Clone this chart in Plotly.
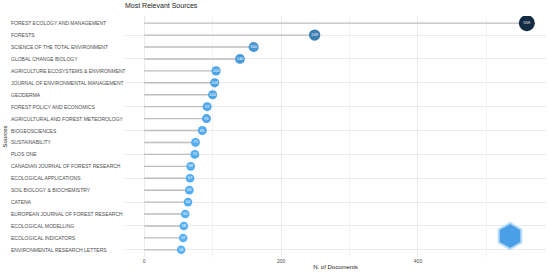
import math
import plotly.graph_objects as go

sources = [
    "FOREST ECOLOGY AND MANAGEMENT",
    "FORESTS",
    "SCIENCE OF THE TOTAL ENVIRONMENT",
    "GLOBAL CHANGE BIOLOGY",
    "AGRICULTURE ECOSYSTEMS & ENVIRONMENT",
    "JOURNAL OF ENVIRONMENTAL MANAGEMENT",
    "GEODERMA",
    "FOREST POLICY AND ECONOMICS",
    "AGRICULTURAL AND FOREST METEOROLOGY",
    "BIOGEOSCIENCES",
    "SUSTAINABILITY",
    "PLOS ONE",
    "CANADIAN JOURNAL OF FOREST RESEARCH",
    "ECOLOGICAL APPLICATIONS",
    "SOIL BIOLOGY & BIOCHEMISTRY",
    "CATENA",
    "EUROPEAN JOURNAL OF FOREST RESEARCH",
    "ECOLOGICAL MODELLING",
    "ECOLOGICAL INDICATORS",
    "ENVIRONMENTAL RESEARCH LETTERS",
]
documents = [559, 249, 160, 140, 105, 103, 100, 92, 91, 85, 75, 74, 68, 67, 66, 64, 60, 58, 57, 54]
x_ticks = [0, 200, 400]

W, H = 550, 277
ML, MR, MT, MB = 125, 4, 16, 20
PW, PH = W - ML - MR, H - MT - MB

vmin, vmax = min(documents), max(documents)
sizes = [8.5 + 7.5 * (v - vmin) / (vmax - vmin) for v in documents]

seg_x, seg_y = [], []
for s, v in zip(sources, documents):
    seg_x += [0, v, None]
    seg_y += [s, s, None]

fig = go.Figure()
fig.add_trace(go.Scatter(x=seg_x, y=seg_y, mode="lines",
                         line=dict(color="#bdbdbd", width=1.4),
                         hoverinfo="skip", showlegend=False))
fig.add_trace(go.Scatter(
    x=documents, y=sources, mode="markers+text",
    marker=dict(size=sizes, color=documents, cmin=vmin, cmax=vmax, opacity=1,
                colorscale=[[0, "#56B1F7"], [0.25, "#4590CA"], [0.5, "#336F9C"],
                            [0.75, "#234E70"], [1, "#132B43"]],
                line=dict(width=0)),
    text=[str(v) for v in documents], textposition="middle center",
    textfont=dict(color="white", size=4, family="Liberation Sans"),
    showlegend=False))

for s in sources:
    fig.add_annotation(x=(9 - ML) / PW, xref="paper", y=s, yref="y", text=s,
                       showarrow=False, xanchor="left",
                       font=dict(size=5, color="#4d4d4d", family="Liberation Sans"))

fig.add_annotation(x=(4 - ML) / PW, xref="paper", y=0.5, yref="paper", text="Sources",
                   textangle=-90, showarrow=False, xanchor="center", yanchor="middle",
                   font=dict(size=6, color="#222", family="Liberation Sans"))

# watermark hexagon (bottom right)
cx, cy, r = 510, 236, 13
pts = []
for k in range(6):
    a = math.radians(90 + 60 * k)
    px = cx + r * math.cos(a)
    py = cy - r * math.sin(a)
    pts.append(((px - ML) / PW, (H - MB - py) / PH))
path = "M " + " L ".join(f"{p[0]:.4f},{p[1]:.4f}" for p in pts) + " Z"
fig.add_shape(type="path", path=path, xref="paper", yref="paper",
              fillcolor="#4a9fe6", line=dict(color="#b5d9f7", width=2), layer="above")

fig.update_layout(
    width=W, height=H,
    margin=dict(l=ML, r=MR, t=MT, b=MB, autoexpand=False),
    paper_bgcolor="white", plot_bgcolor="white",
    hovermode=False,
    title=dict(text="Most Relevant Sources", x=ML / W, xanchor="left",
               y=1 - 6 / H, yanchor="middle",
               font=dict(size=7, color="#222", family="Liberation Sans")),
    font=dict(family="Liberation Sans"),
    xaxis=dict(range=[-28, 587], tickvals=x_ticks, ticktext=[str(t) for t in x_ticks],
               showgrid=True, gridcolor="#ebebeb", gridwidth=0.8,
               minor=dict(dtick=100, showgrid=True, gridcolor="#f4f4f4", gridwidth=0.5),
               zeroline=False, ticks="", tickfont=dict(size=5, color="#4d4d4d"),
               automargin=False,
               title=dict(text="N. of Documents", font=dict(size=6, color="#222"), standoff=1)),
    yaxis=dict(categoryorder="array", categoryarray=sources[::-1],
               range=[-0.6, len(sources) - 0.4], automargin=False,
               showticklabels=False, showgrid=True, gridcolor="#ebebeb", gridwidth=0.8,
               zeroline=False, ticks=""),
)

fig.write_html("out.html", config={"displayModeBar": False},
               post_script="document.body.style.margin='0';")
